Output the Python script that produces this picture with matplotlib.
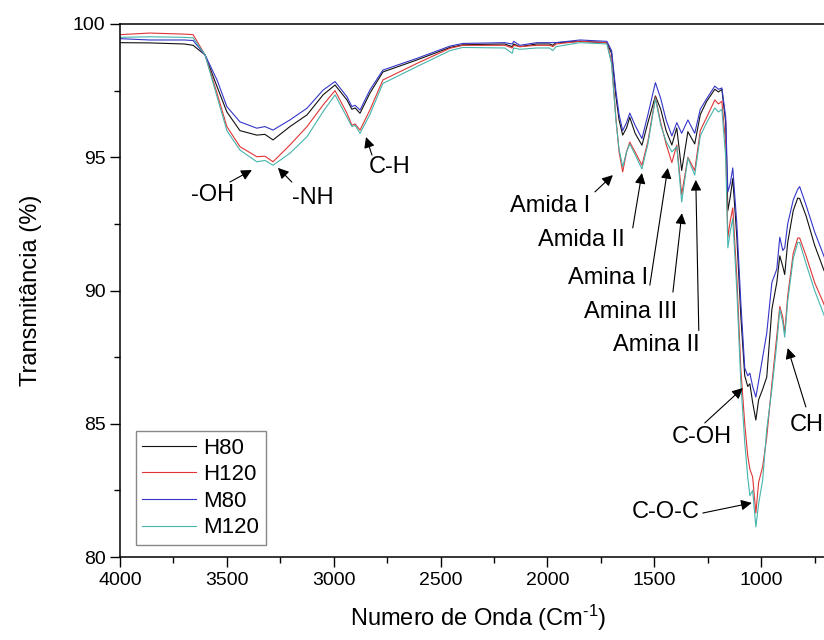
import matplotlib
matplotlib.use("Agg")
import matplotlib.pyplot as plt
from matplotlib.ticker import MultipleLocator

plt.rcParams['font.family'] = ['Liberation Sans', 'DejaVu Sans']
plt.rcParams['mathtext.fontset'] = 'custom'
plt.rcParams['mathtext.rm'] = 'Liberation Sans'
plt.rcParams['mathtext.it'] = 'Liberation Sans'

wavenumber = [4000, 3860, 3700, 3658, 3602, 3546, 3500, 3439, 3360, 3322, 3284, 3205, 3125, 3050,
              2994, 2938, 2915, 2900, 2877, 2831, 2770, 2611, 2456, 2396, 2200, 2165, 2158, 2129,
              2050, 1990, 1975, 1960, 1848, 1722, 1700, 1680, 1665, 1648, 1630, 1615, 1590, 1558,
              1530, 1495, 1470, 1445, 1418, 1395, 1372, 1343, 1311, 1285, 1255, 1217, 1200, 1184,
              1166, 1156, 1145, 1133, 1114, 1095, 1077, 1063, 1053, 1040, 1025, 1012, 993, 974,
              950, 927, 913, 899, 890, 876, 850, 829, 820, 790, 750, 707, 680]

H80 = [99.30, 99.29, 99.25, 99.20, 98.84, 97.65, 96.70, 96.00, 95.83, 95.86, 95.65, 96.15, 96.59, 97.34,
       97.71, 97.15, 96.80, 96.85, 96.65, 97.40, 98.20, 98.65, 99.12, 99.22, 99.25, 99.15, 99.25, 99.15,
       99.25, 99.25, 99.20, 99.30, 99.35, 99.30, 98.90, 97.30, 96.40, 95.83, 96.10, 96.50, 95.90, 95.45,
       96.30, 97.30, 96.80, 96.00, 95.46, 96.10, 94.50, 95.96, 95.50, 96.60, 97.10, 97.55, 97.45, 97.55,
       96.30, 93.00, 93.50, 94.20, 92.00, 89.00, 86.80, 86.40, 86.50, 85.80, 85.14, 85.90, 86.30, 86.75,
       89.30, 90.30, 91.30, 90.90, 90.60, 91.80, 93.00, 93.47, 93.45, 92.80, 91.70, 90.77, 90.30]

H120 = [99.60, 99.66, 99.62, 99.60, 98.84, 97.40, 96.15, 95.40, 95.02, 95.04, 94.83, 95.46, 96.15, 96.96,
        97.50, 96.65, 96.20, 96.25, 96.02, 96.77, 97.90, 98.52, 99.09, 99.20, 99.20, 99.10, 99.20, 99.15,
        99.20, 99.20, 99.15, 99.25, 99.35, 99.30, 98.60, 96.50, 95.20, 94.45, 95.20, 95.57, 95.20, 94.70,
        95.60, 97.26, 96.30, 95.50, 94.80, 95.46, 93.60, 95.00, 94.50, 96.00, 96.50, 97.15, 97.00, 97.10,
        95.50, 92.00, 92.60, 93.10, 90.50, 87.00, 85.00, 83.80, 83.30, 83.00, 81.65, 82.80, 83.40, 84.50,
        86.50, 88.30, 89.40, 89.00, 88.40, 89.80, 91.40, 91.97, 91.97, 91.30, 90.30, 89.50, 88.90]

M80 = [99.45, 99.40, 99.40, 99.38, 98.84, 97.90, 96.90, 96.33, 96.09, 96.15, 96.02, 96.40, 96.84, 97.52,
       97.84, 97.27, 96.90, 96.95, 96.77, 97.52, 98.27, 98.71, 99.17, 99.27, 99.30, 99.25, 99.35, 99.20,
       99.30, 99.30, 99.30, 99.30, 99.40, 99.35, 99.00, 97.50, 96.60, 96.00, 96.30, 96.66, 96.20, 95.70,
       96.60, 97.80, 97.20, 96.40, 95.80, 96.30, 95.90, 96.40, 95.90, 96.80, 97.20, 97.67, 97.55, 97.60,
       96.50, 93.70, 94.00, 94.60, 92.50, 89.50, 87.10, 86.80, 86.90, 86.40, 86.00, 86.60, 87.50, 88.40,
       90.30, 90.80, 92.00, 91.50, 91.60, 92.50, 93.40, 93.80, 93.90, 93.20, 92.20, 91.30, 90.80]

M120 = [99.50, 99.52, 99.50, 99.48, 98.84, 97.27, 96.00, 95.27, 94.83, 94.88, 94.70, 95.15, 95.77, 96.71,
        97.34, 96.50, 96.15, 96.20, 95.90, 96.60, 97.77, 98.40, 99.00, 99.12, 99.10, 98.90, 99.10, 99.05,
        99.10, 99.10, 99.00, 99.15, 99.30, 99.25, 98.50, 96.40, 95.30, 94.64, 95.20, 95.50, 95.10, 94.56,
        95.50, 97.20, 96.20, 95.60, 95.20, 95.40, 93.32, 94.97, 94.33, 95.80, 96.30, 96.85, 96.70, 96.80,
        95.00, 91.60, 92.20, 92.70, 90.00, 86.50, 84.30, 83.00, 82.30, 82.50, 81.13, 82.00, 82.90, 84.80,
        86.30, 88.00, 89.30, 88.80, 88.25, 89.60, 91.20, 91.80, 91.80, 91.00, 90.00, 89.10, 88.50]

series_names = ["H80", "H120", "M80", "M120"]
series_values = [H80, H120, M80, M120]
series_colors = ["#111111", "#e03535", "#3535c8", "#45b5ad"]

# annotations: label, text position, arrow tail, arrow head, alignment
ann_labels = ["-OH", "-NH", "C-H", "Amida I", "Amida II", "Amina I", "Amina III", "Amina II",
              "C-OH", "C-O-C", "CH"]
ann_text_xy = [(3565, 93.58), (3097, 93.47), (2737, 94.63), (1989, 93.17), (1638, 91.9),
               (1530, 90.47), (1395, 89.19), (1287, 87.95), (1278, 84.5), (1287, 81.69), (866, 84.95)]
ann_ha = ["center", "center", "center", "center", "right", "right", "right", "right",
          "center", "right", "left"]
ann_tail = [(3486, 94.07), (3196, 94.07), (2821, 95.08), (1778, 93.7), (1601, 92.35),
            (1521, 90.2), (1413, 89.94), (1292, 88.5), (1264, 85.03), (1273, 81.65), (791, 85.63)]
ann_head = [(3383, 94.52), (3261, 94.6), (2849, 95.76), (1694, 94.33), (1558, 94.41),
            (1437, 94.6), (1371, 92.9), (1306, 94.15), (1086, 86.34), (1044, 82.03), (876, 87.84)]

fig = plt.figure(figsize=(8.24, 6.4), dpi=100)
ax = fig.add_axes([120 / 824, 83 / 640, 716 / 824, 533 / 640])

for name, vals, col in zip(series_names, series_values, series_colors):
    ax.plot(wavenumber, vals, color=col, lw=0.8, label=name)

ax.set_xlim(4000, 650)
ax.set_ylim(80, 100)
ax.xaxis.set_major_locator(MultipleLocator(500))
ax.xaxis.set_minor_locator(MultipleLocator(250))
ax.yaxis.set_major_locator(MultipleLocator(5))
ax.yaxis.set_minor_locator(MultipleLocator(2.5))
ax.tick_params(which='major', direction='out', length=7, width=1.0, labelsize=14)
ax.tick_params(which='minor', direction='out', length=4.5, width=1.0)
for s in ax.spines.values():
    s.set_linewidth(1.1)

ax.set_xlabel(r'Numero de Onda (Cm$^{\text{-1}}$)', fontsize=17, labelpad=10)
ax.set_ylabel('Transmitância (%)', fontsize=17, labelpad=22)

for lab, txy, ha, tail, head in zip(ann_labels, ann_text_xy, ann_ha, ann_tail, ann_head):
    ax.text(txy[0], txy[1], lab, ha=ha, va='center', fontsize=17)
    ax.annotate('', xy=head, xytext=tail,
                arrowprops=dict(arrowstyle='-|>', color='black', lw=0.8,
                                mutation_scale=16, shrinkA=0, shrinkB=0))

leg = ax.legend(loc='lower left', bbox_to_anchor=(0.022, 0.0225), borderaxespad=0,
                fontsize=16, handlelength=2.4, handletextpad=0.35, labelspacing=0.25,
                borderpad=0.3, fancybox=False, framealpha=1, edgecolor='#888888')
leg.get_frame().set_linewidth(1.0)

fig.savefig("out.png", dpi=100)
